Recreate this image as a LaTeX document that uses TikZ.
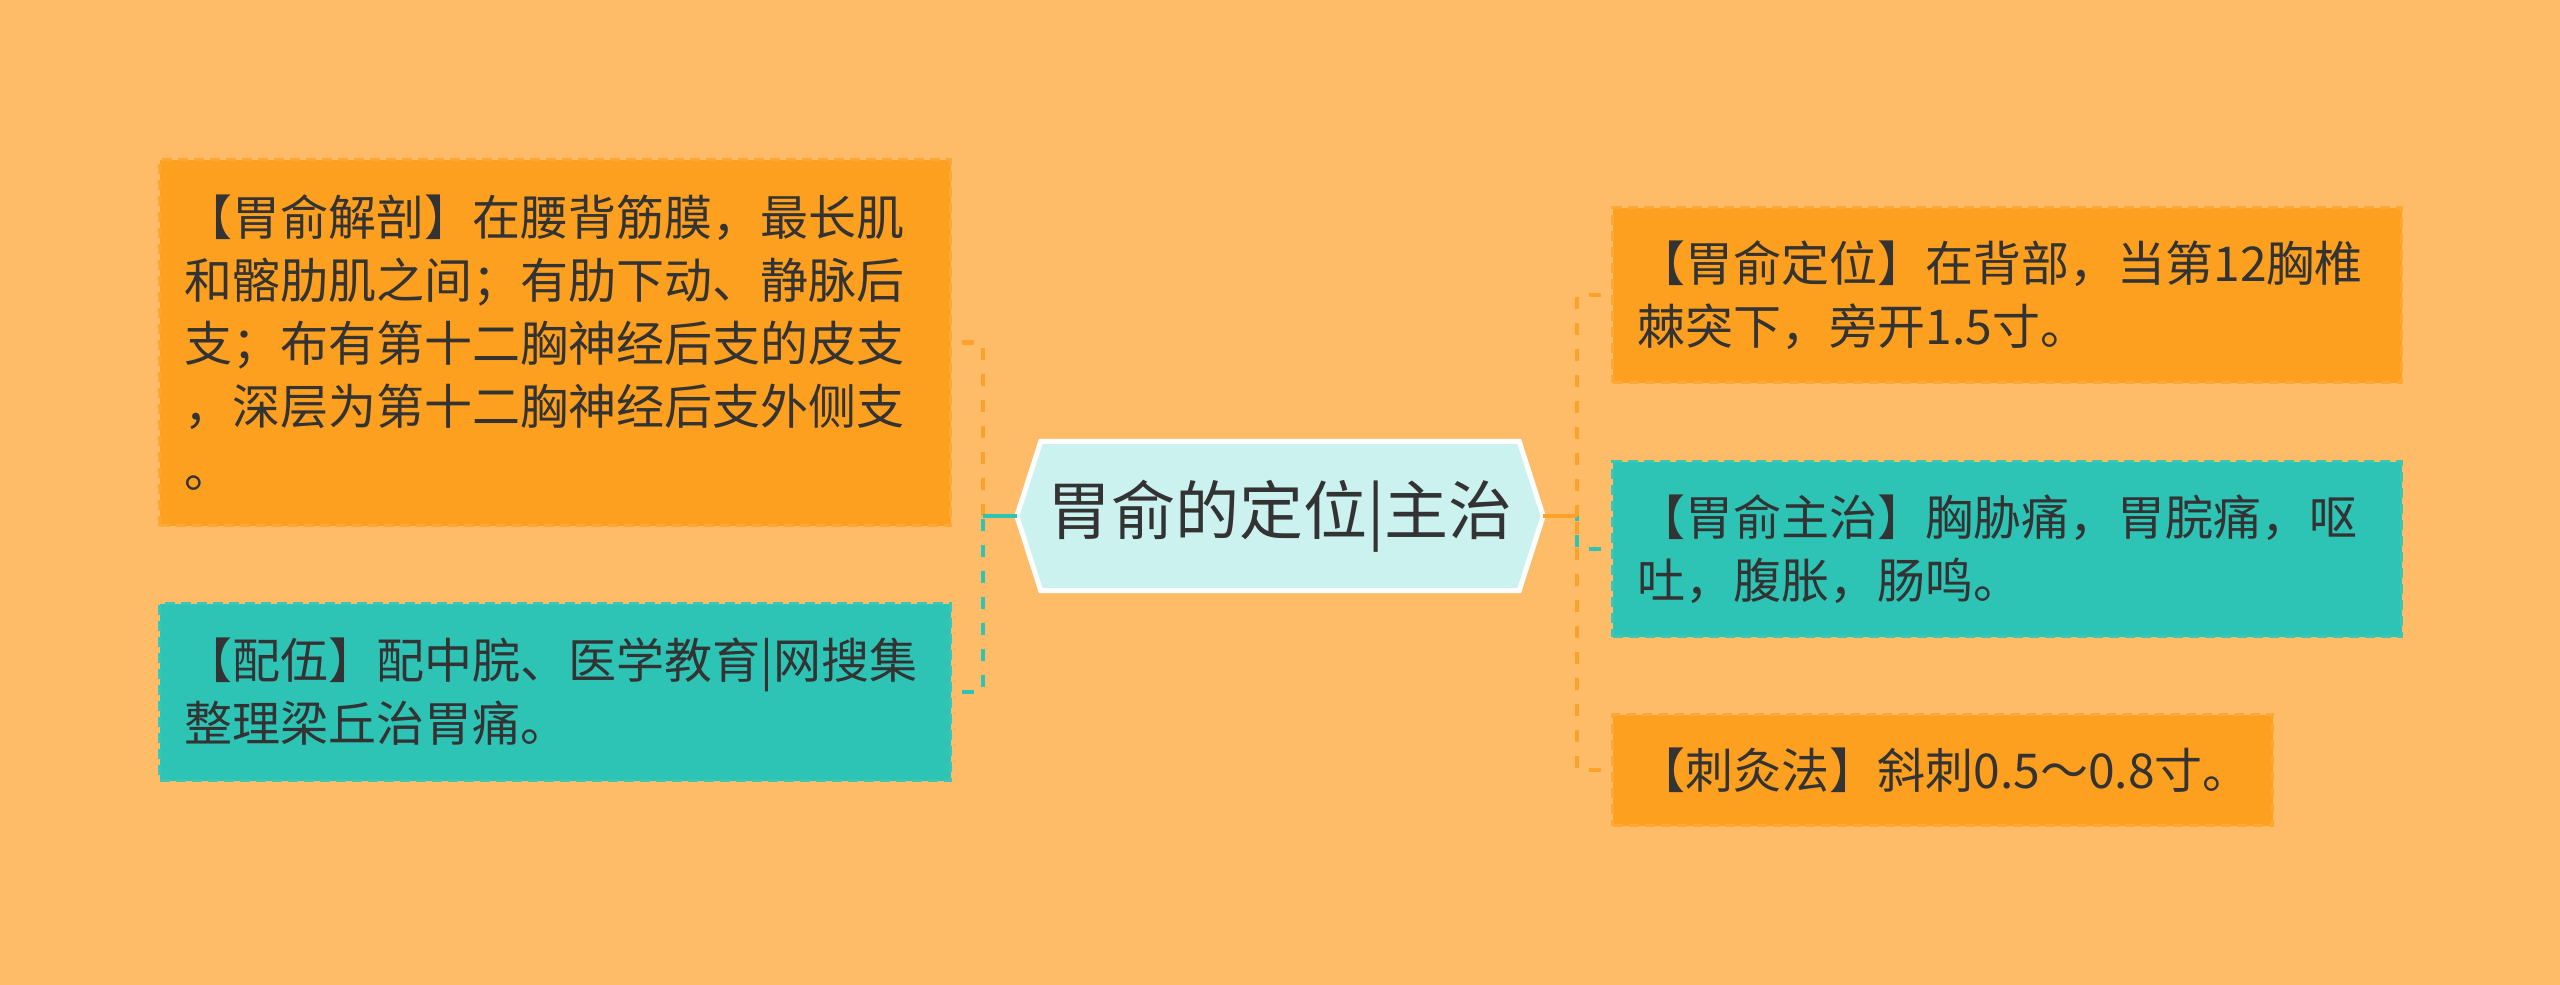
\documentclass[tikz,border=0pt]{standalone}
\usepackage{fontspec}
\setmainfont{Noto Sans CJK SC}
\usetikzlibrary{calc}
\definecolor{bgC}{HTML}{FEBC69}
\definecolor{orgF}{HTML}{FD9F1F}
\definecolor{orgB}{HTML}{FBA838}
\definecolor{tealF}{HTML}{2EC4B5}
\definecolor{tealB}{HTML}{3DC6B5}
\definecolor{hexF}{HTML}{CCF2EF}
\definecolor{txtC}{HTML}{333333}
\definecolor{orgC}{HTML}{FCA22A}
\pgfdeclarelayer{front}
\pgfsetlayers{main,front}
\begin{document}
\begin{tikzpicture}[x=1pt,y=-1pt,
  box/.style={anchor=north west, inner xsep=25pt, inner ysep=0pt, align=left,
    font=\fontsize{48pt}{63pt}\selectfont, text=txtC, line width=3pt,
    dash pattern=on 10pt off 6pt},
  orgbox/.style={box, fill=orgF, draw=orgB},
  tealbox/.style={box, fill=tealF, draw=tealB},
  conn/.style={line width=4.5pt, dash pattern=on 12pt off 14pt, dash phase=16pt},
  rootline/.style={line width=4.5pt}]
\useasboundingbox[fill=bgC] (0,0) rectangle (2560,985);

\begin{pgfonlayer}{front}
\node[font=\fontsize{64pt}{64pt}\selectfont, text=txtC, minimum width=478pt,
      minimum height=149pt, inner sep=0pt] (root) at (1280,516) {胃俞的定位|主治};
\end{pgfonlayer}
\coordinate (rootL) at ($(root.west)+(-24pt,0)$);
\coordinate (rootR) at ($(root.east)+(24pt,0)$);
\draw[white, line width=5pt, fill=hexF, line join=miter]
  (root.north west) -- (root.north east) -- (rootR) -- (root.south east)
  -- (root.south west) -- (rootL) -- cycle;

\node[orgbox, text width=741pt, minimum height=366pt] (L1) at (158,158)
  {【胃俞解剖】在腰背筋膜，最长肌\\和髂肋肌之间；有肋下动、静脉后\\支；布有第十二胸神经后支的皮支\\，深层为第十二胸神经后支外侧支\\。};
\node[tealbox, text width=741pt, minimum height=177pt] (L2) at (158,602)
  {【配伍】配中脘、医学教育|网搜集\\整理梁丘治胃痛。};
\node[orgbox, text width=739pt, minimum height=175pt] (R1) at (1611,206)
  {【胃俞定位】在背部，当第12胸椎\\棘突下，旁开1.5寸。};
\node[tealbox, text width=739pt, minimum height=175pt] (R2) at (1611,460)
  {【胃俞主治】胸胁痛，胃脘痛，呕\\吐，腹胀，肠鸣。};
\node[orgbox, text width=610pt, minimum height=111pt] (R3) at (1611,713)
  {【刺灸法】斜刺0.5～0.8寸。};

\coordinate (lv) at ($(rootL)+(-34pt,0)$);
\coordinate (rv) at ($(rootR)+(34pt,0)$);

\draw[conn, tealF] (R2.west) -| (rv);
\draw[conn, orgC] (R1.west) -| (rv);
\draw[conn, orgC] (R3.west) -| (rv);
\draw[rootline, orgC] (rootR) -- (rv);

\draw[conn, orgC] (L1.east) -| (lv);
\draw[conn, tealF] (L2.east) -| (lv);
\draw[rootline, tealF] (rootL) -- (lv);
\end{tikzpicture}
\end{document}
